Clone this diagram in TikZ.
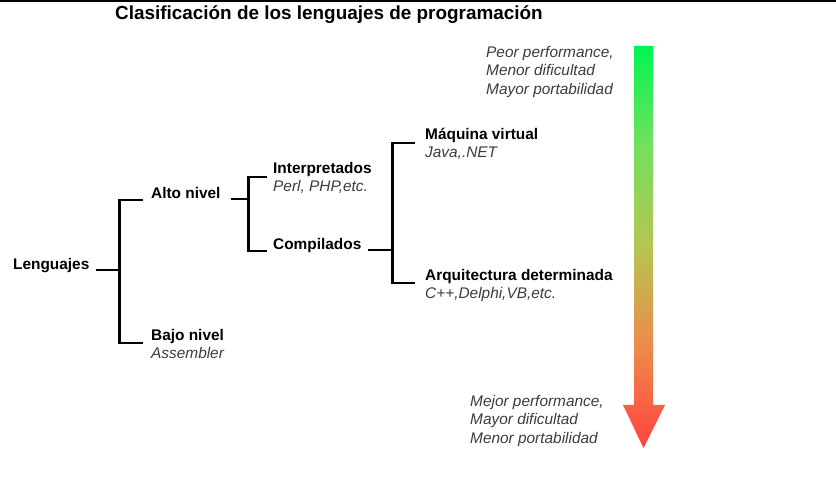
\documentclass[tikz,border=0pt]{standalone}
\usepackage{fontspec}
\setmainfont{Liberation Sans}
\usepackage{xcolor}
\usepackage{tikz}
\usetikzlibrary{positioning}

\definecolor{subgray}{HTML}{3C3C3C}
\definecolor{topgreen}{HTML}{00F552}
\definecolor{lightgreen}{HTML}{74E05E}
\definecolor{midolive}{HTML}{B6C452}
\definecolor{orangec}{HTML}{EE8A4A}
\definecolor{botred}{HTML}{FF4242}
\pgfdeclareverticalshading{perfshade}{100bp}{color(0bp)=(botred); color(25bp)=(botred);
    color(37.5bp)=(orangec); color(50bp)=(midolive); color(62.5bp)=(lightgreen);
    color(75bp)=(topgreen); color(100bp)=(topgreen)}

\begin{document}
\begin{tikzpicture}[x=1pt, y=-1pt,
    lvl/.style={font=\fontsize{15.4}{18}\selectfont\bfseries, inner sep=0pt, anchor=base west},
    ejem/.style={font=\fontsize{15.4}{18}\selectfont\itshape, text=subgray, inner sep=0pt, anchor=base west},
    nota/.style={font=\fontsize{15.4}{18.5}\selectfont\itshape, text=subgray, inner sep=0pt, anchor=west, align=left},
    tree/.style={line width=2.8pt}]

    \useasboundingbox (0,0) rectangle (836,478);
    \fill (0,0) rectangle (836,2);

    % Title
    \node[lvl, font=\fontsize{18.9}{22}\selectfont\bfseries] (title) at (115,20) {Clasificación de los lenguajes de programación};

    % Nodes of the tree (name in bold, examples in italics below)
    \node[lvl] (lenguajes) at (13,270) {Lenguajes};
    \node[lvl] (alto) at (151,199) {Alto nivel};
    \node[lvl] (bajo) at (151,341) {Bajo nivel};
    \node[ejem] (bajoej) at (151,359) {Assembler};
    \node[lvl] (interp) at (273,174) {Interpretados};
    \node[ejem] (interpej) at (273,192) {Perl, PHP,etc.};
    \node[lvl] (compil) at (273,250) {Compilados};
    \node[lvl] (maquina) at (425,140) {Máquina virtual};
    \node[ejem] (maquinaej) at (425,158) {Java,.NET};
    \node[lvl] (arqui) at (425,281) {Arquitectura determinada};
    \node[ejem] (arquiej) at (425,299) {C++,Delphi,VB,etc.};

    % Brackets joining each node to its children
    \draw[tree] ([xshift=6pt]lenguajes.base east) -- ++(24,0) coordinate (b1);
    \draw[tree] ([xshift=-8pt,yshift=-1pt]alto.base west) -| (b1) |- ([xshift=-8pt,yshift=-2pt]bajo.base west);
    \draw[tree] ([xshift=10pt]alto.base east) -- ++(18,0) coordinate (b2);
    \draw[tree] ([xshift=-6pt,yshift=-3pt]interp.base west) -| (b2) |- ([xshift=-6pt,yshift=-1pt]compil.base west);
    \draw[tree] ([xshift=6pt]compil.base east) -- ++(25,0) coordinate (b3);
    \draw[tree] ([xshift=-10pt,yshift=-3pt]maquina.base west) -| (b3) |- ([xshift=-10pt,yshift=-2pt]arqui.base west);

    % Notes at both ends of the arrow
    \node[nota] (peor) at (486,72) {Peor performance,\\Menor dificultad\\Mayor portabilidad};
    \node[nota] (mejor) at (470,421) {Mejor performance,\\Mayor dificultad\\Menor portabilidad};

    % Shaded arrow, green to red
    \shade[shading=perfshade]
        (634,46) -- (653,46) -- (653,405) -- (665,405) -- (643.5,448)
        -- (623,405) -- (634,405) -- cycle;

\end{tikzpicture}
\end{document}
